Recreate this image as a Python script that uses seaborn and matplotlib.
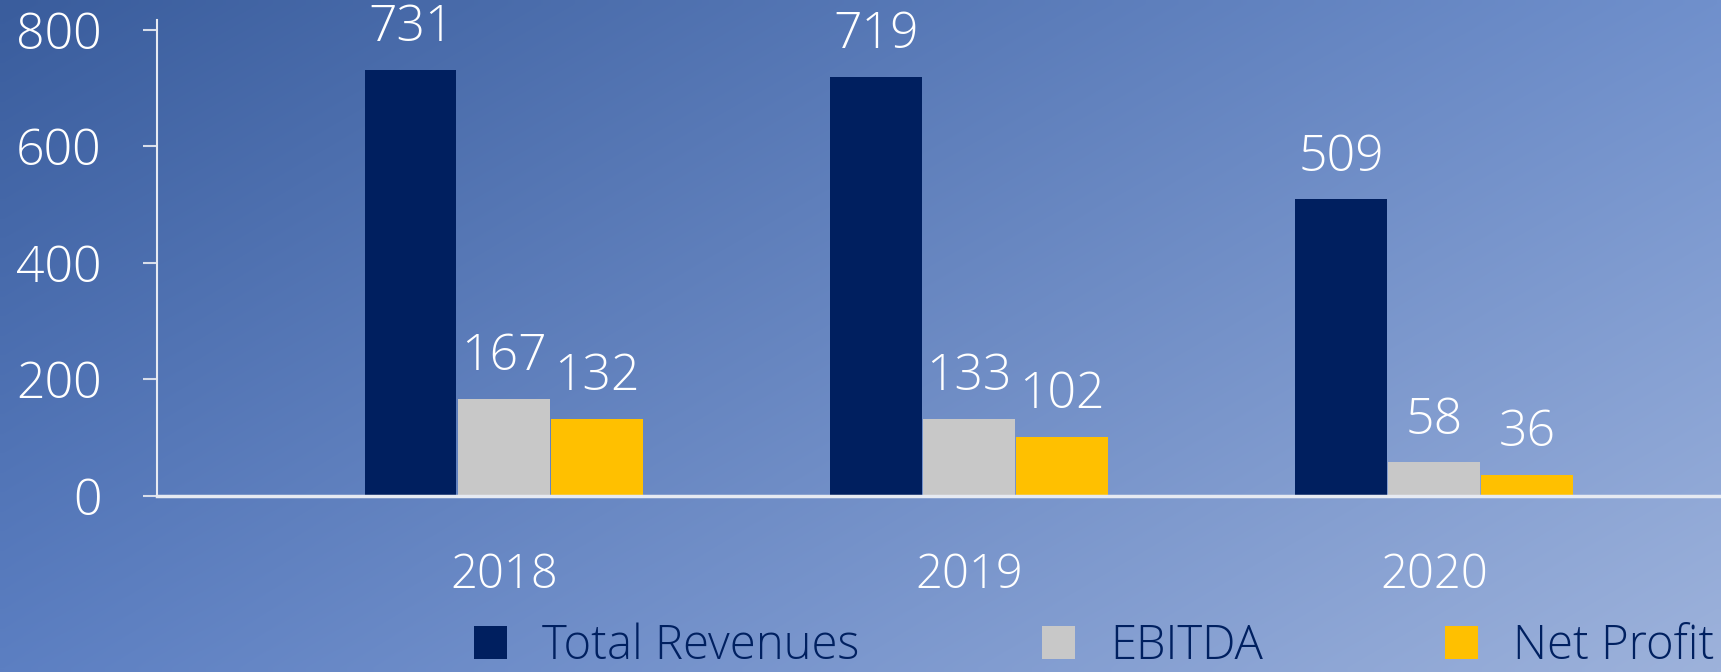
import matplotlib.pyplot as plt
import numpy as np
import pandas as pd
import seaborn as sns
from matplotlib.colors import to_rgb
from matplotlib.patches import Patch

# data
years = ["2018", "2019", "2020"]
series = ["Total Revenues", "EBITDA", "Net Profit"]
total_revenues = [731, 719, 509]
ebitda = [167, 133, 58]
net_profit = [132, 102, 36]
y_ticks = [0, 200, 400, 600, 800]

colors = ["#001F5F", "#C8C8C8", "#FFC000"]
legend_text_color = "#002060"

df = pd.DataFrame({
    "year": years * 3,
    "series": [s for s in series for _ in years],
    "value": total_revenues + ebitda + net_profit,
})

sns.set_theme(style="white")
plt.rcParams["font.family"] = ["Open Sans", "DejaVu Sans"]

W, H = 1721, 672
fig = plt.figure(figsize=(W / 100, H / 100), dpi=100)

# diagonal gradient background
bg = fig.add_axes([0, 0, 1, 1], zorder=0)
tl, tr = np.array(to_rgb("#3A5D9D")), np.array(to_rgb("#7090CC"))
bl, br = np.array(to_rgb("#5C7FC2")), np.array(to_rgb("#9DB2DB"))
u = np.linspace(0, 1, 200)[None, :, None]
v = np.linspace(0, 1, 80)[:, None, None]
grad = (1 - v) * ((1 - u) * tl + u * tr) + v * ((1 - u) * bl + u * br)
bg.imshow(grad, aspect="auto", interpolation="bilinear", extent=[0, 1, 0, 1])
bg.set_axis_off()

ax = fig.add_axes([157 / W, 176 / H, 1 - 157 / W, 476 / H], zorder=1)
ax.patch.set_alpha(0)

sns.barplot(data=df, x="year", y="value", hue="series", palette=colors,
            width=0.6, gap=0.02, linewidth=0, saturation=1, legend=False, ax=ax)

for cont in ax.containers:
    ax.bar_label(cont, padding=12, color="white", fontsize=36, fontweight="light")

ax.set_xlim(-0.746, 2.617)
ax.set_ylim(0, 817)
ax.set_yticks(y_ticks)
ax.set_xlabel("")
ax.set_ylabel("")

for side in ["top", "right"]:
    ax.spines[side].set_visible(False)
ax.spines["left"].set_color("#E6EAF2")
ax.spines["left"].set_linewidth(1.5)
ax.spines["bottom"].set_color("#E6EAF2")
ax.spines["bottom"].set_linewidth(2.5)

ax.tick_params(axis="y", colors="#D8DEEA", length=10, width=1.5, direction="out",
               labelcolor="white", labelsize=36, pad=30, left=True)
ax.tick_params(axis="x", length=0, labelcolor="white", labelsize=34, pad=40)
for lab in ax.get_xticklabels() + ax.get_yticklabels():
    lab.set_fontweight("light")

handles = [Patch(facecolor=c, edgecolor="none") for c in colors]
leg = fig.legend(handles, series, loc="center left", bbox_to_anchor=(474 / W, 25 / H),
                 ncol=3, frameon=False, fontsize=34, handlelength=0.7, handleheight=0.7,
                 handletextpad=0.75, columnspacing=3.85, borderpad=0, borderaxespad=0)
for t in leg.get_texts():
    t.set_color(legend_text_color)
    t.set_fontweight("light")

fig.savefig("out.png", dpi=100)
